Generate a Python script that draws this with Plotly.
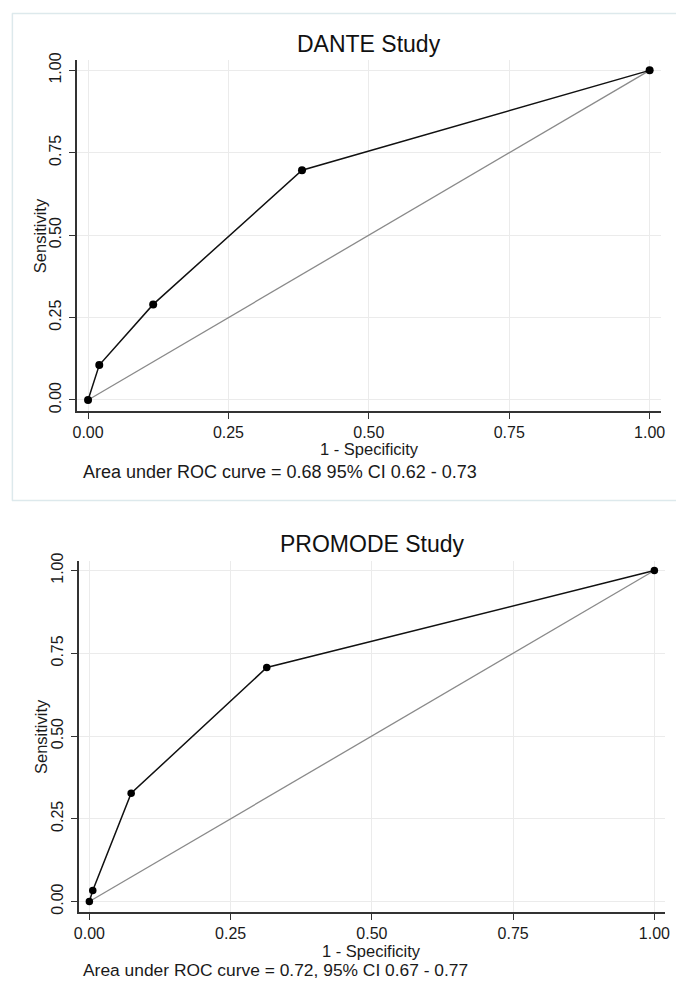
import plotly.graph_objects as go

W, H = 676, 984

# ---- data ----
dante_fpr = [0.0, 0.020, 0.116, 0.381, 1.0]
dante_sens = [0.0, 0.106, 0.290, 0.697, 1.0]
promode_fpr = [0.0, 0.006, 0.074, 0.314, 1.0]
promode_sens = [0.0, 0.033, 0.327, 0.707, 1.0]
ref_x = [0.0, 1.0]
ref_y = [0.0, 1.0]
tick_vals = [0.0, 0.25, 0.5, 0.75, 1.0]
tick_text = ["0.00", "0.25", "0.50", "0.75", "1.00"]
titles = ["DANTE Study", "PROMODE Study"]
auc_texts = ["Area under ROC curve = 0.68 95% CI 0.62 - 0.73",
             "Area under ROC curve = 0.72, 95% CI 0.67 - 0.77"]

FONT = "Liberation Sans, Arial, sans-serif"

def px(x):
    return x / W

def py(y):
    return 1 - y / H

fig = go.Figure()

panels = [
    dict(fpr=dante_fpr, sens=dante_sens, xa="x", ya="y",
         l=73, r=666, t=53, b=407, xr=[-0.0198, 1.0205], yr=[-0.033, 1.030], ms=8),
    dict(fpr=promode_fpr, sens=promode_sens, xa="x2", ya="y2",
         l=75.3, r=670, t=558.3, b=913.7, xr=[-0.018, 1.019], yr=[-0.033, 1.030], ms=7.5),
]

for p in panels:
    fig.add_trace(go.Scatter(x=ref_x, y=ref_y, mode="lines", xaxis=p["xa"], yaxis=p["ya"],
                             line=dict(color="#8a8a8a", width=1.3), showlegend=False,
                             hoverinfo="skip"))
    fig.add_trace(go.Scatter(x=p["fpr"], y=p["sens"], mode="lines+markers",
                             xaxis=p["xa"], yaxis=p["ya"],
                             line=dict(color="#111111", width=1.5),
                             marker=dict(color="#000000", size=p["ms"]),
                             showlegend=False))

axis_common = dict(
    showline=True, linecolor="#333333", linewidth=1.5,
    ticks="outside", ticklen=6, tickwidth=1.2, tickcolor="#333333",
    showgrid=True, gridcolor="#ebebeb", gridwidth=1, zeroline=False,
    tickvals=tick_vals, ticktext=tick_text,
    tickfont=dict(family=FONT, size=16, color="#1a1a1a"),
    fixedrange=True,
)

layout_axes = {}
for i, p in enumerate(panels):
    sx = "" if i == 0 else str(i + 1)
    layout_axes["xaxis" + sx] = dict(axis_common, domain=[px(p["l"]), px(p["r"])],
                                     range=p["xr"], anchor="y" + sx,
                                     ticklabelstandoff=0)
    layout_axes["yaxis" + sx] = dict(axis_common, domain=[py(p["b"]), py(p["t"])],
                                     range=p["yr"], anchor="x" + sx, tickangle=-90,
                                     ticklabelstandoff=2)

fig.update_layout(
    width=W, height=H,
    margin=dict(l=0, r=0, t=0, b=0),
    paper_bgcolor="white", plot_bgcolor="white",
    showlegend=False,
    **layout_axes,
)

annotations = []
title_pos = [(369.5, 36), (372.6, 542)]
xtitle_pos = [(370, 446), (372, 953)]
ytitle_pos = [(35, 230), (36, 736)]
auc_pos = [(77, 469), (77.5, 972)]
auc_sizes = [18, 17.4]
for i in range(2):
    annotations.append(dict(text=titles[i], x=px(title_pos[i][0]), y=py(title_pos[i][1]),
                            xref="paper", yref="paper", showarrow=False,
                            xanchor="center", yanchor="middle",
                            font=dict(family=FONT, size=23, color="#111111")))
    annotations.append(dict(text="1 - Specificity", x=px(xtitle_pos[i][0]), y=py(xtitle_pos[i][1]),
                            xref="paper", yref="paper", showarrow=False,
                            xanchor="center", yanchor="middle",
                            font=dict(family=FONT, size=16.5, color="#1a1a1a")))
    annotations.append(dict(text="Sensitivity", x=px(ytitle_pos[i][0]), y=py(ytitle_pos[i][1]),
                            xref="paper", yref="paper", showarrow=False, textangle=-90,
                            xanchor="center", yanchor="middle",
                            font=dict(family=FONT, size=16.5, color="#1a1a1a")))
    annotations.append(dict(text=auc_texts[i], x=px(auc_pos[i][0]), y=py(auc_pos[i][1]),
                            xref="paper", yref="paper", showarrow=False,
                            xanchor="left", yanchor="middle",
                            font=dict(family=FONT, size=auc_sizes[i], color="#1a1a1a")))
fig.update_layout(annotations=annotations)

frame_color = "#dde9ec"
shapes = [
    dict(type="line", xref="paper", yref="paper", x0=px(7), x1=1.02, y0=py(5.5), y1=py(5.5),
         line=dict(color=frame_color, width=1.5)),
    dict(type="line", xref="paper", yref="paper", x0=px(7), x1=1.02, y0=py(497.5), y1=py(497.5),
         line=dict(color=frame_color, width=1.5)),
    dict(type="line", xref="paper", yref="paper", x0=px(7.5), x1=px(7.5), y0=py(5.5), y1=py(497.5),
         line=dict(color=frame_color, width=1.5)),
]
fig.update_layout(shapes=shapes)

fig.write_html("out.html",
               config={"displayModeBar": False},
               post_script="document.body.style.margin='0';document.body.style.overflow='hidden';")
